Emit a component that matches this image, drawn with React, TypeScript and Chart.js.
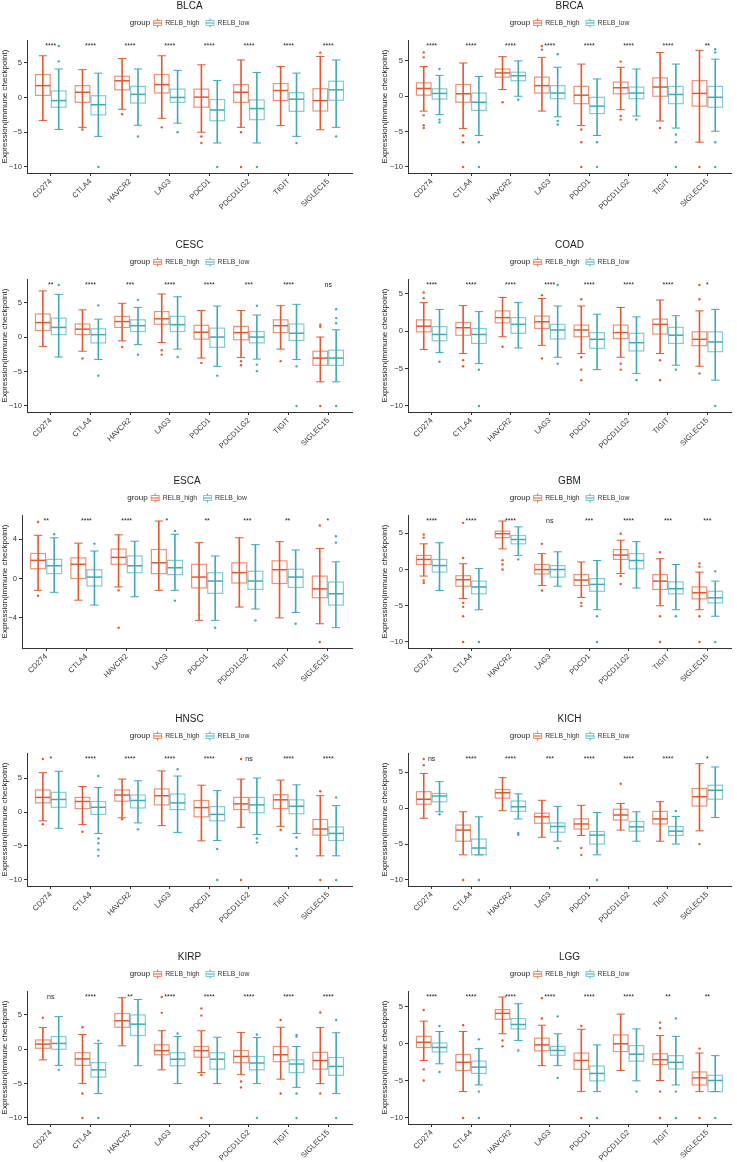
import React, { useEffect, useRef } from "react";
import { Chart, registerables } from "chart.js";
Chart.register(...registerables);

const FONT = '"Liberation Sans", Arial, Helvetica, sans-serif';
Chart.defaults.font.family = FONT;

// ---------- data ----------
const categories = ["CD274", "CTLA4", "HAVCR2", "LAG3", "PDCD1", "PDCD1LG2", "TIGIT", "SIGLEC15"];
const groupNames = ["RELB_high", "RELB_low"];
const legendTitle = "group";
const yTitle = "Expression(immune checkpoint)";
const yTicksMain = [-10, -5, 0, 5];
const yTicksESCA = [-4, 0, 4];

// each box: [lower whisker, Q1, median, Q3, upper whisker]
const BLCA_high = [[-3.3, 0.3, 1.7, 3.3, 6.0], [-4.3, -0.7, 0.75, 1.7, 4.0], [-1.7, 1.1, 2.4, 3.05, 5.6], [-3.0, 0.65, 1.85, 3.3, 6.0], [-5.0, -1.4, 0.05, 1.2, 4.7], [-4.3, -0.7, 0.75, 1.85, 5.4], [-4.05, -0.45, 1.0, 2.0, 4.45], [-4.65, -1.95, -0.45, 1.25, 5.9]];
const BLCA_low = [[-4.6, -1.4, -0.45, 0.95, 4.1], [-5.6, -2.5, -1.05, 0.25, 3.5], [-4.0, -0.8, 0.45, 1.6, 4.1], [-3.7, -0.7, 0.0, 1.2, 3.9], [-6.55, -3.35, -1.8, -0.3, 2.45], [-6.55, -3.2, -1.6, -0.35, 3.6], [-5.6, -2.0, -0.25, 0.7, 3.5], [-4.3, -0.4, 1.1, 2.35, 5.4]];
const BLCA_highOut = [[], [-4.6], [-2.4], [-4.3], [-5.6, -6.55], [-5.0, -10], [], [6.45]];
const BLCA_lowOut = [[5.2, 7.4], [-10], [-5.6], [-5.0], [-10], [-10], [-6.55], [-5.6]];
const BLCA_sig = ["****", "****", "****", "****", "****", "****", "****", "****"];

const BRCA_high = [[-2.1, 0.15, 1.1, 1.9, 4.2], [-4.55, -0.85, 0.35, 1.65, 4.7], [0.95, 2.7, 3.3, 3.85, 5.6], [-2.1, 0.45, 1.5, 2.7, 5.5], [-4.15, -1.05, 0.15, 1.4, 4.55], [-1.9, 0.35, 1.2, 2.0, 4.1], [-3.5, 0.0, 1.3, 2.6, 6.2], [-6.5, -1.4, 0.4, 2.2, 6.5]];
const BRCA_low = [[-2.6, -0.4, 0.4, 1.05, 2.95], [-5.55, -2.0, -0.85, 0.45, 2.8], [0.0, 2.2, 2.9, 3.4, 5.0], [-2.9, -0.35, 0.45, 1.5, 4.1], [-5.55, -2.45, -1.4, -0.15, 2.45], [-2.8, -0.35, 0.45, 1.3, 3.85], [-4.5, -1.05, 0.25, 1.4, 4.55], [-4.95, -1.55, -0.15, 1.4, 5.25]];
const BRCA_highOut = [[5.5, 6.2, -2.7, -4.1, -4.5], [-5.55, -6.5, -10], [-0.85], [6.6, 7.1], [-4.7, -6.5, -10], [4.9, -2.8, -3.3], [-4.5], [-10]];
const BRCA_lowOut = [[3.85, -3.3, -3.7], [-6.5, -10], [-0.5], [5.95, -3.5, -4.0], [-6.5, -10], [-3.3], [-5.4, -6.5, -10], [6.2, 6.65, -6.5, -10]];
const BRCA_sig = ["****", "****", "****", "****", "****", "****", "****", "**"];

const CESC_high = [[-1.35, 0.95, 2.1, 3.35, 6.7], [-2.05, 0.35, 1.15, 1.9, 3.95], [-0.55, 1.4, 2.25, 3.0, 4.9], [-0.8, 1.85, 2.65, 3.7, 6.25], [-3.05, -0.3, 0.7, 1.7, 3.85], [-2.95, -0.4, 0.65, 1.55, 3.85], [-1.75, 0.65, 1.65, 2.5, 4.55], [-6.5, -4.1, -3.05, -2.05, 0.0]];
const CESC_low = [[-2.9, 0.35, 1.4, 2.75, 6.2], [-3.25, -0.85, 0.35, 1.2, 2.6], [-1.1, 0.8, 1.65, 2.5, 4.3], [-1.75, 0.8, 1.8, 3.0, 5.85], [-4.25, -1.5, 0.0, 1.3, 4.5], [-3.2, -0.85, 0.0, 0.8, 3.2], [-3.25, -0.5, 0.55, 1.9, 4.75], [-6.5, -4.1, -3.05, -1.9, 1.05]];
const CESC_highOut = [[], [-3.1], [-1.45], [-1.9, -2.55], [-3.75], [-3.5, -4.1], [-3.5], [1.8, 1.5, -10]];
const CESC_lowOut = [[7.55], [4.6, -5.6], [5.4, -2.55], [-2.9], [-5.6], [4.55, -4.0, -4.95], [-4.25, -10], [4.05, 2.75, 2.0, -10]];
const CESC_sig = ["**", "****", "***", "****", "****", "***", "****", "ns"];

const COAD_high = [[-2.45, -0.1, 0.65, 1.5, 3.8], [-3.0, -0.55, 0.45, 1.15, 3.4], [-0.75, 1.1, 1.8, 2.7, 4.5], [-1.9, 0.35, 1.25, 2.0, 4.35], [-3.0, -0.75, 0.15, 0.8, 3.35], [-3.5, -1.0, -0.2, 0.8, 3.15], [-3.0, -0.4, 0.9, 1.6, 4.15], [-4.7, -1.95, -1.1, -0.1, 2.7]];
const COAD_low = [[-2.85, -1.3, -0.45, 0.6, 2.9], [-4.35, -1.65, -0.45, 0.35, 2.6], [-2.25, -0.3, 0.9, 1.8, 3.8], [-3.5, -1.05, 0.15, 0.9, 3.35], [-5.15, -2.3, -1.1, -0.2, 2.25], [-5.65, -2.65, -1.55, -0.3, 1.9], [-4.55, -1.65, -0.55, 0.5, 2.05], [-6.55, -2.75, -1.45, -0.1, 2.9]];
const COAD_highOut = [[5.15, 4.4], [-3.9, -4.7], [-2.1], [4.8, -3.65], [4.25, -3.5, -5.15, -6.55], [-4.35, -5.15], [-3.9, -6.55], [6.15, 4.25, -5.65]];
const COAD_lowOut = [[-4.1], [-5.15, -10], [], [6.15, -4.35], [], [-6.55], [-5.15], [-10]];
const COAD_sig = ["****", "****", "****", "****", "****", "****", "****", "*"];

const ESCA_high = [[-1.2, 1.0, 1.85, 2.55, 4.4], [-2.2, 0.0, 1.45, 2.1, 3.6], [-0.85, 1.45, 2.15, 3.0, 4.45], [-1.2, 0.5, 1.6, 2.95, 5.85], [-4.25, -0.95, 0.15, 1.45, 3.65], [-2.9, -0.45, 0.6, 1.6, 4.15], [-4.0, -0.5, 0.9, 1.8, 3.75], [-4.6, -1.95, -1.05, 0.25, 3.05]];
const ESCA_low = [[-1.4, 0.5, 1.3, 1.95, 4.15], [-2.7, -0.75, 0.15, 0.9, 2.8], [-1.85, 0.6, 1.3, 2.3, 3.8], [-1.2, 0.4, 1.1, 1.85, 4.5], [-4.25, -1.5, -0.25, 0.6, 2.3], [-3.1, -1.1, -0.25, 0.75, 3.45], [-3.45, -0.9, 0.15, 0.95, 2.9], [-5.0, -2.7, -1.55, -0.35, 1.7]];
const ESCA_highOut = [[5.75, -1.75], [], [-1.2, -5.0], [], [], [], [], [5.4, -6.45]];
const ESCA_lowOut = [[4.5], [3.55], [], [4.85, -2.25], [-5.0], [-4.25], [-4.6], [4.3, 3.65]];
const ESCA_sig = ["**", "****", "****", "*", "**", "***", "**", "*"];

const GBM_high = [[-0.9, 0.7, 1.4, 1.95, 3.55], [-4.0, -2.3, -1.4, -0.85, 0.8], [2.85, 4.4, 4.95, 5.3, 6.7], [-2.2, -0.6, 0.0, 0.7, 2.2], [-3.85, -2.2, -1.45, -0.7, 1.05], [-0.55, 1.4, 2.0, 2.75, 4.05], [-5.0, -2.75, -1.6, -0.7, 1.5], [-5.55, -4.05, -3.2, -2.4, -0.35]];
const GBM_low = [[-2.9, -0.35, 0.55, 1.4, 3.7], [-5.55, -3.35, -2.4, -1.6, 0.15], [1.95, 3.55, 4.15, 4.7, 5.9], [-2.3, -1.05, 0.0, 0.55, 2.45], [-5.55, -3.0, -2.05, -1.25, 1.25], [-2.55, 0.1, 1.25, 2.2, 3.85], [-5.55, -3.35, -2.65, -1.7, 0.7], [-6.45, -4.6, -3.9, -3.0, -1.6]];
const GBM_highOut = [[4.85, 4.4, -1.5, -1.85], [6.45, 1.6, -4.6, -5.15, -6.45, -10], [1.3, 0.7, 0.0], [3.55, -2.9], [-4.6, -5.05], [4.95, -0.9, -2.0], [2.4, -6.45, -10], [0.85, 0.4, -6.45, -10]];
const GBM_lowOut = [[], [-10], [1.4], [], [-6.45, -10], [], [-6.45], [-0.25, -10]];
const GBM_sig = ["****", "****", "****", "ns", "***", "****", "***", "***"];

const HNSC_high = [[-1.3, 1.35, 2.15, 3.25, 5.8], [-1.85, 0.5, 1.55, 2.15, 3.75], [-0.85, 1.6, 2.5, 3.25, 4.85], [-2.0, 1.05, 2.4, 3.4, 6.05], [-4.25, -0.7, 0.65, 1.7, 3.95], [-2.25, 0.35, 1.2, 2.15, 4.85], [-2.1, 0.5, 1.8, 2.55, 4.7], [-6.45, -3.4, -2.5, -1.1, 2.4]];
const HNSC_low = [[-2.4, 0.7, 1.85, 2.9, 6.0], [-3.15, -0.35, 0.7, 1.55, 3.6], [-1.6, 0.6, 1.7, 2.5, 4.6], [-3.0, 0.35, 1.35, 2.65, 5.3], [-4.2, -1.3, -0.35, 0.8, 3.15], [-3.3, -0.1, 1.05, 2.15, 5.0], [-3.15, -0.25, 0.85, 1.8, 4.0], [-6.45, -4.2, -3.15, -2.2, 0.95]];
const HNSC_highOut = [[7.8, -1.8], [-2.9], [-1.05], [], [], [7.8, -10], [-2.65], [3.05, -10]];
const HNSC_lowOut = [[], [5.3, -3.9, -4.6, -5.55, -6.45], [-2.55], [6.3], [-5.45, -10], [-3.9, -4.5], [-3.75, -5.45, -6.45], [2.15, -10]];
const HNSC_sig = ["*", "****", "****", "****", "****", "ns", "****", "****"];

const KICH_high = [[-1.4, 0.55, 1.25, 2.3, 4.85], [-6.5, -4.6, -3.05, -2.35, -0.5], [-0.35, 1.4, 2.15, 2.6, 4.25], [-4.05, -2.1, -1.2, -0.7, 1.1], [-3.8, -2.9, -2.2, -1.5, 0.4], [-3.05, -1.65, -0.95, -0.15, 0.65], [-4.6, -2.2, -1.5, -0.45, 0.9], [-3.15, 0.3, 1.6, 2.75, 6.2]];
const KICH_low = [[-0.5, 0.9, 1.7, 2.05, 3.7], [-6.5, -6.5, -5.55, -4.3, -1.2], [-1.5, -0.45, 0.2, 1.0, 2.0], [-4.6, -3.35, -2.55, -2.05, 0.25], [-6.5, -5.0, -3.75, -3.25, -0.6], [-4.6, -3.2, -2.6, -1.85, -0.5], [-5.0, -3.8, -3.2, -2.55, -1.15], [-1.3, 1.25, 2.5, 3.2, 5.75]];
const KICH_highOut = [[6.85, 6.0], [-10], [], [], [-5.55, -6.5], [3.4], [], [-5.0]];
const KICH_lowOut = [[-0.85], [-10], [-3.45, -3.7], [-5.55], [-10], [], [-0.4], []];
const KICH_sig = ["ns", "****", "****", "***", "****", "****", "****", "*"];

const KIRP_high = [[-1.55, 0.15, 0.75, 1.35, 3.15], [-5.0, -2.35, -1.4, -0.5, 2.15], [0.5, 3.2, 4.15, 5.2, 7.5], [-3.0, -0.8, -0.2, 0.65, 2.7], [-3.4, -1.15, -0.2, 0.4, 2.7], [-3.7, -1.95, -1.05, -0.2, 2.45], [-4.35, -1.8, -0.8, 0.4, 3.2], [-5.0, -2.9, -1.65, -0.45, 3.15]];
const KIRP_low = [[-2.35, 0.0, 0.85, 1.85, 4.75], [-6.45, -4.05, -3.0, -1.95, 0.85], [-2.4, 2.0, 3.65, 5.0, 7.25], [-5.0, -2.4, -1.45, -0.5, 1.85], [-5.0, -2.9, -1.45, -0.5, 1.75], [-5.0, -3.0, -2.0, -1.05, 1.7], [-5.55, -3.4, -2.15, -1.55, 0.4], [-6.45, -3.8, -2.5, -1.2, 2.4]];
const KIRP_highOut = [[4.6], [3.2, -6.45, -10], [], [7.6, 5.3], [5.95, 4.9, -3.75, -10], [-4.7, -5.55], [4.25, -6.45], [5.35, -6.45]];
const KIRP_lowOut = [[-3.0], [1.25, -10], [], [2.3], [], [2.15, -10], [2.1, 1.85, -6.45, -10], [4.25, -10]];
const KIRP_sig = ["ns", "****", "**", "****", "****", "****", "****", "****"];

const LGG_high = [[-2.25, -0.5, 0.2, 1.0, 3.05], [-6.45, -3.6, -2.5, -1.45, 1.65], [1.35, 3.3, 4.1, 4.6, 6.3], [-2.95, -0.95, -0.15, 0.75, 2.5], [-6.45, -3.45, -2.25, -1.25, 1.95], [-3.6, -1.05, 0.0, 1.2, 4.0], [-4.95, -2.8, -2.15, -1.35, 1.1], [-6.45, -5.55, -4.6, -3.8, -1.25]];
const LGG_low = [[-2.7, -1.1, -0.5, 0.1, 1.65], [-5.55, -4.0, -3.15, -2.35, -0.65], [0.45, 2.0, 2.6, 3.4, 5.4], [-2.95, -1.55, -0.9, -0.35, 1.35], [-6.45, -5.0, -4.0, -3.0, -0.15], [-5.0, -2.35, -1.4, -0.25, 2.0], [-5.55, -3.4, -2.5, -1.6, 1.0], [-6.45, -6.45, -4.95, -4.25, -1.6]];
const LGG_highOut = [[4.55, -3.45, -4.95], [2.5, -10], [0.45, -0.35], [6.15, 3.4], [2.4, -10], [], [2.85, 2.1, -6.45, -10], [-0.65, -10]];
const LGG_lowOut = [[2.4, -3.8], [0.6, -6.45, -10], [-0.9], [3.7, -4.6], [-10], [-6.45], [3.4, -6.45, -10], [-10]];
const LGG_sig = ["****", "****", "****", "****", "****", "****", "**", "**"];

const panels = [
  { name: "BLCA", high: BLCA_high, low: BLCA_low, highOut: BLCA_highOut, lowOut: BLCA_lowOut, sig: BLCA_sig, ticks: yTicksMain },
  { name: "BRCA", high: BRCA_high, low: BRCA_low, highOut: BRCA_highOut, lowOut: BRCA_lowOut, sig: BRCA_sig, ticks: yTicksMain },
  { name: "CESC", high: CESC_high, low: CESC_low, highOut: CESC_highOut, lowOut: CESC_lowOut, sig: CESC_sig, ticks: yTicksMain },
  { name: "COAD", high: COAD_high, low: COAD_low, highOut: COAD_highOut, lowOut: COAD_lowOut, sig: COAD_sig, ticks: yTicksMain },
  { name: "ESCA", high: ESCA_high, low: ESCA_low, highOut: ESCA_highOut, lowOut: ESCA_lowOut, sig: ESCA_sig, ticks: yTicksESCA },
  { name: "GBM", high: GBM_high, low: GBM_low, highOut: GBM_highOut, lowOut: GBM_lowOut, sig: GBM_sig, ticks: yTicksMain },
  { name: "HNSC", high: HNSC_high, low: HNSC_low, highOut: HNSC_highOut, lowOut: HNSC_lowOut, sig: HNSC_sig, ticks: yTicksMain },
  { name: "KICH", high: KICH_high, low: KICH_low, highOut: KICH_highOut, lowOut: KICH_lowOut, sig: KICH_sig, ticks: yTicksMain },
  { name: "KIRP", high: KIRP_high, low: KIRP_low, highOut: KIRP_highOut, lowOut: KIRP_lowOut, sig: KIRP_sig, ticks: yTicksMain },
  { name: "LGG", high: LGG_high, low: LGG_low, highOut: LGG_highOut, lowOut: LGG_lowOut, sig: LGG_sig, ticks: yTicksMain },
];

// ---------- style ----------
const HIGH = "#E4572E";
const HIGH_LIGHT = "rgba(233,110,70,0.75)";
const LOW = "#3FA9B8";
const LOW_LIGHT = "rgba(90,185,198,0.75)";
const DODGE = 0.2;
const BOX_W = 0.37;
const CAP_W = 0.21;
const ROW_TOPS = [0, 239, 475, 713, 951];
const CANVAS_H = 215;

function line(ctx, x1, y1, x2, y2) {
  ctx.beginPath();
  ctx.moveTo(x1, y1);
  ctx.lineTo(x2, y2);
  ctx.stroke();
}

function drawBoxes(chart, stats, offset, dark, light) {
  const { ctx } = chart;
  const xs = chart.scales.x;
  const ys = chart.scales.y;
  ctx.save();
  stats.forEach((s, i) => {
    const c = i + 1 + offset;
    const xc = xs.getPixelForValue(c);
    const xl = xs.getPixelForValue(c - BOX_W / 2);
    const xr = xs.getPixelForValue(c + BOX_W / 2);
    const cl = xs.getPixelForValue(c - CAP_W / 2);
    const cr = xs.getPixelForValue(c + CAP_W / 2);
    const [lo, q1, med, q3, hi] = s.map((v) => ys.getPixelForValue(v));
    ctx.strokeStyle = light;
    ctx.lineWidth = 1.2;
    ctx.strokeRect(xl, q3, xr - xl, q1 - q3);
    ctx.strokeStyle = dark;
    ctx.lineWidth = 1.6;
    line(ctx, xc, lo, xc, hi);
    ctx.lineWidth = 1;
    line(ctx, cl, lo, cr, lo);
    line(ctx, cl, hi, cr, hi);
    ctx.lineWidth = 1.5;
    line(ctx, xl, med, xr, med);
  });
  ctx.restore();
}

function drawLegendIcon(ctx, x, y, dark, light) {
  const w = 9;
  ctx.save();
  ctx.strokeStyle = dark;
  ctx.lineWidth = 1;
  line(ctx, x + w / 2, y - 4.5, x + w / 2, y - 2.5);
  line(ctx, x + w / 2, y + 2.5, x + w / 2, y + 4.5);
  ctx.strokeStyle = light;
  ctx.lineWidth = 1;
  ctx.strokeRect(x + 0.5, y - 2.5, w - 1, 5);
  ctx.strokeStyle = dark;
  line(ctx, x + 0.5, y, x + w - 0.5, y);
  ctx.restore();
}

function makePlugin(p, maxVal) {
  return {
    id: "panelDecor",
    beforeDatasetsDraw(chart) {
      drawBoxes(chart, p.high, -DODGE, HIGH, HIGH_LIGHT);
      drawBoxes(chart, p.low, DODGE, LOW, LOW_LIGHT);
    },
    afterDatasetsDraw(chart) {
      const { ctx } = chart;
      const xs = chart.scales.x;
      const ys = chart.scales.y;
      ctx.save();
      ctx.fillStyle = "#222";
      ctx.font = `7px ${FONT}`;
      ctx.textAlign = "center";
      ctx.textBaseline = "middle";
      const y = ys.getPixelForValue(maxVal);
      p.sig.forEach((s, i) => ctx.fillText(s, xs.getPixelForValue(i + 1), y));
      ctx.restore();
    },
    afterDraw(chart) {
      const { ctx, chartArea } = chart;
      const y = chartArea.top - 17;
      const cx = (chartArea.left + chartArea.right) / 2;
      ctx.save();
      ctx.textBaseline = "middle";
      ctx.textAlign = "left";
      ctx.font = `8px ${FONT}`;
      const wG = ctx.measureText(legendTitle).width;
      ctx.font = `6.8px ${FONT}`;
      const w1 = ctx.measureText(groupNames[0]).width;
      const w2 = ctx.measureText(groupNames[1]).width;
      const total = wG + 3 + 9 + 3 + w1 + 6 + 9 + 3 + w2;
      let x = cx - total / 2;
      ctx.fillStyle = "#222";
      ctx.font = `8px ${FONT}`;
      ctx.fillText(legendTitle, x, y);
      x += wG + 3;
      drawLegendIcon(ctx, x, y, HIGH, HIGH_LIGHT);
      x += 12;
      ctx.font = `6.8px ${FONT}`;
      ctx.fillStyle = "#333";
      ctx.fillText(groupNames[0], x, y);
      x += w1 + 6;
      drawLegendIcon(ctx, x, y, LOW, LOW_LIGHT);
      x += 12;
      ctx.fillText(groupNames[1], x, y);
      ctx.restore();
    },
  };
}

function Panel({ p, index }) {
  const ref = useRef(null);
  const col = index % 2;
  const row = Math.floor(index / 2);
  const left = col === 0 ? 0 : 368;
  const width = col === 0 ? 368 : 369;
  const padL = col === 0 ? 0 : 12;
  const padR = col === 0 ? 16 : 6;
  const yW = col === 0 ? (p.name === "ESCA" ? 22 : 27) : 28;

  useEffect(() => {
    const all = [];
    p.high.forEach((s) => all.push(...s));
    p.low.forEach((s) => all.push(...s));
    p.highOut.forEach((a) => all.push(...a));
    p.lowOut.forEach((a) => all.push(...a));
    const mn = Math.min(...all);
    const mx = Math.max(...all);
    const pad = (mx - mn) * 0.05;

    const highPts = [];
    p.highOut.forEach((arr, i) => arr.forEach((v) => highPts.push({ x: i + 1 - DODGE, y: v })));
    const lowPts = [];
    p.lowOut.forEach((arr, i) => arr.forEach((v) => lowPts.push({ x: i + 1 + DODGE, y: v })));

    const axisGrid = {
      display: true,
      drawOnChartArea: false,
      drawTicks: true,
      tickLength: 3,
      tickColor: "#333",
      tickWidth: 1,
    };
    const axisBorder = { display: true, color: "#333", width: 1 };

    const chart = new Chart(ref.current, {
      type: "scatter",
      data: {
        datasets: [
          { label: groupNames[0], data: highPts, pointRadius: 1.2, pointBackgroundColor: HIGH, pointBorderWidth: 0 },
          { label: groupNames[1], data: lowPts, pointRadius: 1.2, pointBackgroundColor: LOW, pointBorderWidth: 0 },
        ],
      },
      options: {
        animation: false,
        responsive: true,
        maintainAspectRatio: false,
        events: [],
        layout: { padding: { left: padL, right: padR, top: 0, bottom: 0 } },
        plugins: {
          legend: { display: false },
          tooltip: { enabled: false },
          title: {
            display: true,
            fullSize: false,
            text: p.name,
            color: "#222",
            font: { size: 10, weight: "normal" },
            padding: { top: 0, bottom: 28 },
          },
        },
        scales: {
          x: {
            type: "linear",
            min: 0.4,
            max: 8.6,
            afterBuildTicks: (s) => {
              s.ticks = categories.map((_, i) => ({ value: i + 1 }));
            },
            afterFit: (s) => {
              s.height = 42;
            },
            ticks: {
              autoSkip: false,
              minRotation: 45,
              maxRotation: 45,
              padding: 1,
              color: "#333",
              font: { size: 7.6 },
              callback: (v) => categories[Math.round(v) - 1] ?? "",
            },
            grid: axisGrid,
            border: axisBorder,
          },
          y: {
            type: "linear",
            min: mn - pad,
            max: mx + pad,
            afterBuildTicks: (s) => {
              s.ticks = p.ticks.map((v) => ({ value: v }));
            },
            afterFit: (s) => {
              s.width = yW;
            },
            ticks: {
              padding: 2,
              color: "#333",
              font: { size: 7.6 },
              callback: (v) => (v < 0 ? "\u2212" + Math.abs(v) : String(v)),
            },
            grid: axisGrid,
            border: axisBorder,
            title: {
              display: true,
              text: yTitle,
              color: "#222",
              font: { size: 8 },
              padding: 0,
            },
          },
        },
      },
      plugins: [makePlugin(p, mx)],
    });
    return () => chart.destroy();
  }, []);

  return (
    <div style={{ position: "absolute", left, top: ROW_TOPS[row], width, height: CANVAS_H }}>
      <canvas ref={ref} />
    </div>
  );
}

export default function App() {
  return (
    <div style={{ position: "absolute", left: 0, top: 0, width: 737, height: 1162, background: "#fff", overflow: "hidden" }}>
      {panels.map((p, i) => (
        <Panel key={p.name} p={p} index={i} />
      ))}
    </div>
  );
}
